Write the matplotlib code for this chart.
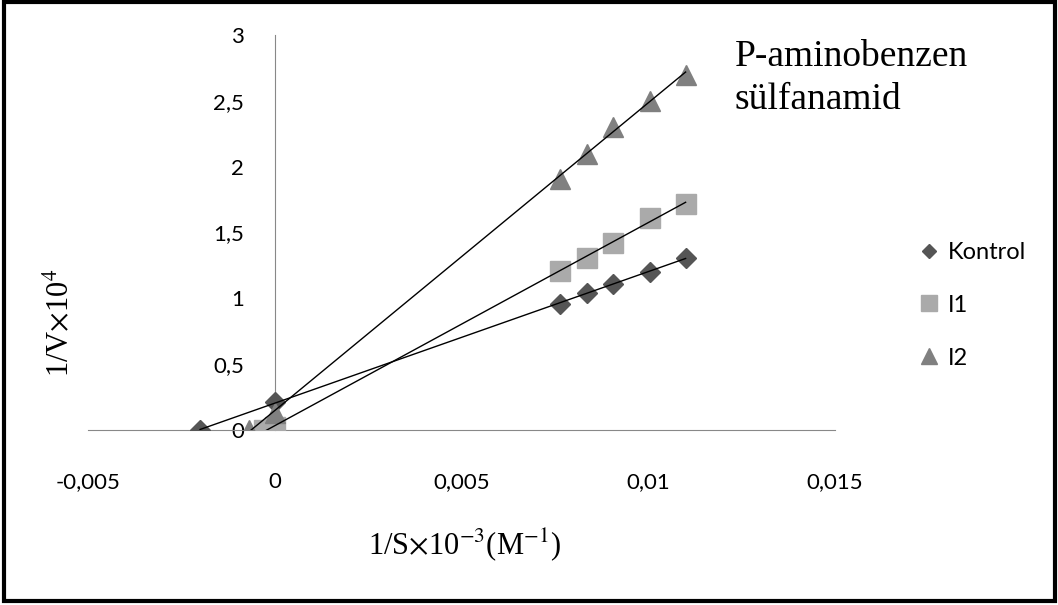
import matplotlib
matplotlib.use("Agg")
import matplotlib.pyplot as plt
import numpy as np
from matplotlib.lines import Line2D
from matplotlib.patches import Rectangle

# 1/S x 10^-3 ve 1/V x 10^4 degerleri
kontrol_x = [-0.002, 0.0, 0.00763, 0.00835, 0.00905, 0.01005, 0.011]
kontrol_y = [0.0, 0.21, 0.96, 1.04, 1.11, 1.20, 1.31]
i1_x = [-0.0003, 0.0, 0.00763, 0.00835, 0.00905, 0.01005, 0.011]
i1_y = [0.0, 0.02, 1.21, 1.31, 1.42, 1.61, 1.72]
i2_x = [-0.0007, 0.0, 0.00763, 0.00835, 0.00905, 0.01005, 0.011]
i2_y = [0.0, 0.13, 1.91, 2.10, 2.30, 2.50, 2.70]

x_ticks = [-0.005, 0.0, 0.005, 0.01, 0.015]
x_tick_labels = ['-0,005', '0', '0,005', '0,01', '0,015']
y_ticks = [0, 0.5, 1, 1.5, 2, 2.5, 3]
y_tick_labels = ['0', '0,5', '1', '1,5', '2', '2,5', '3']

plt.rcParams['mathtext.fontset'] = 'stix'

fig = plt.figure(figsize=(10.58, 6.05), dpi=100)
ax = fig.add_axes([88/1058, 175/605, 747/1058, 395/605])

seriler = [
    (kontrol_x, kontrol_y, 'D', 10, '#555555', 'Kontrol'),
    (i1_x, i1_y, 's', 15, '#aaaaaa', 'I1'),
    (i2_x, i2_y, '^', 15, '#808080', 'I2'),
]

handles = []
for xs, ys, m, ms, c, lab in seriler:
    xs = np.array(xs)
    ys = np.array(ys)
    ax.plot(xs, ys, m, ms=ms, color=c, mec=c, zorder=3)
    a, b = np.polyfit(xs, ys, 1)
    xx = np.array([xs.min(), xs.max()])
    ax.plot(xx, a*xx + b, color='black', lw=1, zorder=4)
    handles.append(Line2D([], [], ls='none', marker=m, ms=ms*0.75, color=c, label=lab))

ax.set_xlim(-0.005, 0.015)
ax.set_ylim(0, 3)
ax.spines['top'].set_visible(False)
ax.spines['right'].set_visible(False)
ax.spines['left'].set_position(('data', 0))
ax.spines['left'].set_color('#888888')
ax.spines['bottom'].set_color('#888888')
ax.set_xticks(x_ticks)
ax.set_xticklabels(x_tick_labels, family='Lato', fontsize=16)
ax.set_yticks(y_ticks)
ax.set_yticklabels(y_tick_labels, family='Lato', fontsize=16)
ax.tick_params(axis='both', length=0)
ax.tick_params(axis='x', pad=30)
ax.tick_params(axis='y', pad=22)

fig.text(60/1058, 1 - 323/605, r'1/V$\times$10$^{4}$', rotation=90, ha='center', va='center',
         family='Liberation Serif', fontsize=22)
fig.text(465/1058, 1 - 545/605, r'1/S$\times$10$^{-3}$(M$^{-1}$)', ha='center', va='center',
         family='Liberation Serif', fontsize=22)
fig.text(735/1058, 1 - 40/605, 'P-aminobenzen\nsülfanamid', ha='left', va='top',
         family='Liberation Serif', fontsize=27, linespacing=1.3)

ax.legend(handles=handles, loc='upper left', bbox_to_anchor=(908/1058, 1 - 230/605),
          bbox_transform=fig.transFigure, frameon=False, prop={'family': 'Lato', 'size': 17},
          labelspacing=1.35, handlelength=0.8, handletextpad=0.4, borderpad=0)

fig.patches.append(Rectangle((0.004, 0.006), 0.993, 0.99, transform=fig.transFigure,
                             fill=False, ec='black', lw=3))

fig.savefig('out.png', dpi=100)
